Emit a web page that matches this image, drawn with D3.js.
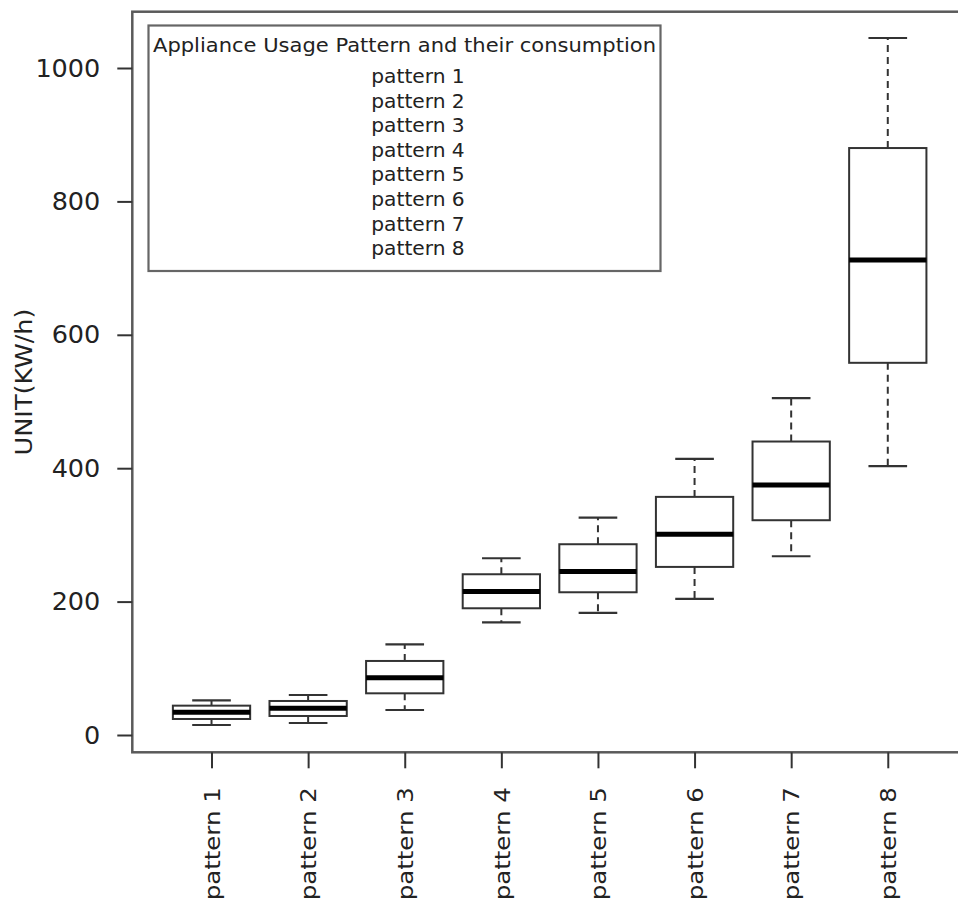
<!DOCTYPE html>
<html>
<head>
<meta charset="utf-8">
<script src="https://cdn.jsdelivr.net/npm/d3@7"></script>
<style>
  html, body { margin: 0; padding: 0; background: #fff; overflow: hidden; }
  svg { display: block; font-family: "DejaVu Sans", sans-serif; }
</style>
</head>
<body>
<svg id="chart" width="958" height="907"></svg>
<script>
// Consumption summary per usage pattern (kWh)
const categories = ["pattern 1", "pattern 2", "pattern 3", "pattern 4",
                    "pattern 5", "pattern 6", "pattern 7", "pattern 8"];
const lowWhisker  = [15, 18, 37.5, 169, 183, 204, 268, 403];
const lowerQuart  = [24, 28.5, 62.5, 190, 214, 252, 322, 558];
const medians     = [34, 40, 86, 215, 245, 301, 375, 712];
const upperQuart  = [44, 51, 111, 241, 286, 357, 440, 880];
const highWhisker = [52, 60, 136, 265, 326, 414, 505, 1045];
const yTicks = [0, 200, 400, 600, 800, 1000];
const legendTitle = "Appliance Usage Pattern and their consumption";
const yTitle = "UNIT(KW/h)";

const stats = categories.map((c, i) => ({
  name: c, pos: i + 1,
  lo: lowWhisker[i], q1: lowerQuart[i], med: medians[i],
  q3: upperQuart[i], hi: highWhisker[i]
}));

const svg = d3.select("#chart");
const plot = { left: 132.3, right: 967, top: 11.7, bottom: 752.3 };

const x = d3.scaleLinear().domain([0.18, 8.82]).range([plot.left, plot.right]);
const y = d3.scaleLinear().domain([0, 1000]).range([735, 68]);

const boxHalf = 0.4, capHalf = 0.2;

// Plot frame
svg.append("rect")
  .attr("x", plot.left).attr("y", plot.top)
  .attr("width", plot.right - plot.left).attr("height", plot.bottom - plot.top)
  .attr("fill", "none").attr("stroke", "#5a5a5a").attr("stroke-width", 2.5);

// Y axis
const yAxis = svg.append("g")
  .attr("transform", `translate(${plot.left},0)`)
  .call(d3.axisLeft(y).tickValues(yTicks).tickSize(15).tickPadding(17).tickFormat(d3.format("d")));
yAxis.select(".domain").remove();
yAxis.selectAll(".tick line").attr("stroke", "#333").attr("stroke-width", 2);
yAxis.selectAll(".tick text")
  .attr("fill", "#222").style("font-size", "25.5px")
  .style("font-family", "DejaVu Sans, sans-serif");

// X axis with rotated labels
const xAxis = svg.append("g")
  .attr("transform", `translate(0,${plot.bottom})`)
  .call(d3.axisBottom(x).tickValues(stats.map(d => d.pos)).tickSize(16)
        .tickFormat((d) => categories[d - 1]));
xAxis.select(".domain").remove();
xAxis.selectAll(".tick line").attr("stroke", "#333").attr("stroke-width", 2);
xAxis.selectAll(".tick text")
  .attr("transform", "rotate(-90)")
  .attr("x", -35).attr("y", 0).attr("dy", "0.36em")
  .attr("text-anchor", "end")
  .attr("textLength", 113).attr("lengthAdjust", "spacingAndGlyphs")
  .attr("fill", "#222").style("font-size", "21.5px")
  .style("font-family", "DejaVu Sans, sans-serif");

// Y axis title
svg.append("text")
  .attr("transform", `translate(32,${(plot.top + plot.bottom) / 2}) rotate(-90)`)
  .attr("text-anchor", "middle")
  .attr("textLength", 147).attr("lengthAdjust", "spacingAndGlyphs")
  .attr("fill", "#222").style("font-size", "23px")
  .text(yTitle);

// Boxes
const boxes = svg.append("g").selectAll("g").data(stats).join("g");

// dashed whiskers
boxes.append("line")
  .attr("x1", d => x(d.pos)).attr("x2", d => x(d.pos))
  .attr("y1", d => y(d.q3)).attr("y2", d => y(d.hi))
  .attr("stroke", "#333").attr("stroke-width", 2).attr("stroke-dasharray", "7,5");
boxes.append("line")
  .attr("x1", d => x(d.pos)).attr("x2", d => x(d.pos))
  .attr("y1", d => y(d.q1)).attr("y2", d => y(d.lo))
  .attr("stroke", "#333").attr("stroke-width", 2).attr("stroke-dasharray", "7,5");
// whisker caps
boxes.append("line")
  .attr("x1", d => x(d.pos - capHalf)).attr("x2", d => x(d.pos + capHalf))
  .attr("y1", d => y(d.hi)).attr("y2", d => y(d.hi))
  .attr("stroke", "#333").attr("stroke-width", 2.2);
boxes.append("line")
  .attr("x1", d => x(d.pos - capHalf)).attr("x2", d => x(d.pos + capHalf))
  .attr("y1", d => y(d.lo)).attr("y2", d => y(d.lo))
  .attr("stroke", "#333").attr("stroke-width", 2.2);
// interquartile box
boxes.append("rect")
  .attr("x", d => x(d.pos - boxHalf)).attr("width", d => x(d.pos + boxHalf) - x(d.pos - boxHalf))
  .attr("y", d => y(d.q3)).attr("height", d => y(d.q1) - y(d.q3))
  .attr("fill", "#fff").attr("stroke", "#333").attr("stroke-width", 2);
// median
boxes.append("line")
  .attr("x1", d => x(d.pos - boxHalf)).attr("x2", d => x(d.pos + boxHalf))
  .attr("y1", d => y(d.med)).attr("y2", d => y(d.med))
  .attr("stroke", "#000").attr("stroke-width", 5);

// Legend
const legend = svg.append("g");
legend.append("rect")
  .attr("x", 148.5).attr("y", 25.5).attr("width", 512).attr("height", 245.5)
  .attr("fill", "#fff").attr("stroke", "#666").attr("stroke-width", 2.2);
legend.append("text")
  .attr("x", 404.5).attr("y", 51.5).attr("text-anchor", "middle")
  .attr("textLength", 503).attr("lengthAdjust", "spacingAndGlyphs")
  .attr("fill", "#222").style("font-size", "20px")
  .text(legendTitle);
legend.selectAll("text.item").data(categories).join("text")
  .attr("class", "item")
  .attr("x", 418).attr("y", (d, i) => 83 + i * 24.6)
  .attr("text-anchor", "middle")
  .attr("fill", "#222").style("font-size", "20.2px")
  .text(d => d);
</script>
</body>
</html>
